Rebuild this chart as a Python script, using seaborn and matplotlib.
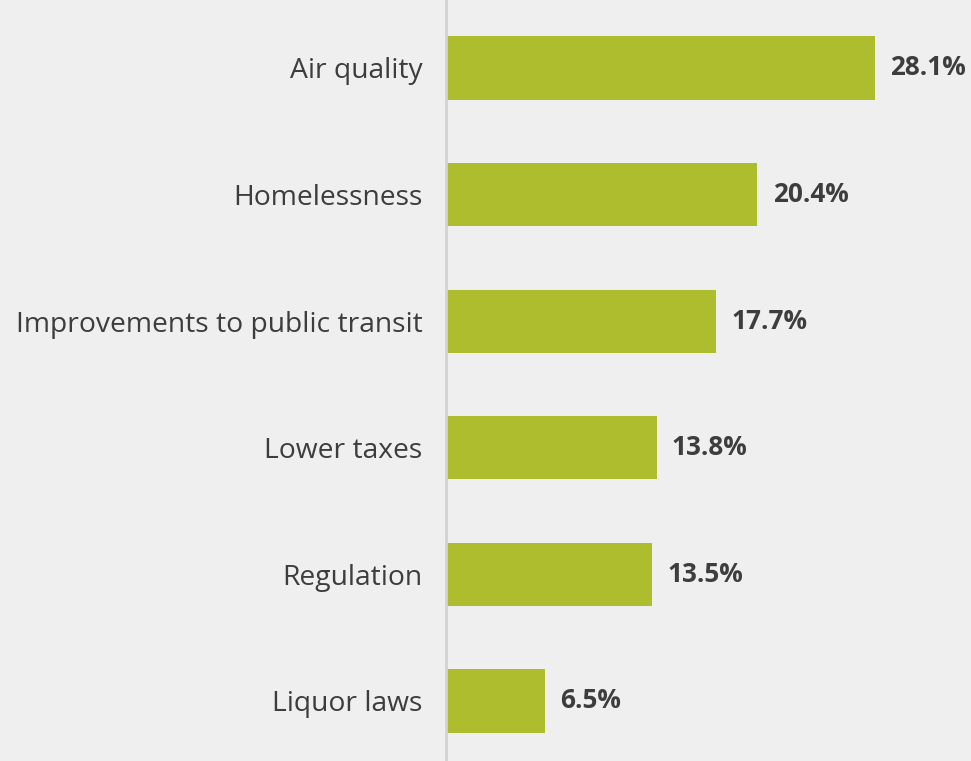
import matplotlib
matplotlib.use("Agg")
import matplotlib.pyplot as plt
import seaborn as sns
import pandas as pd

categories = ["Air quality", "Homelessness", "Improvements to public transit",
              "Lower taxes", "Regulation", "Liquor laws"]
values = [28.1, 20.4, 17.7, 13.8, 13.5, 6.5]
value_labels = ["28.1%", "20.4%", "17.7%", "13.8%", "13.5%", "6.5%"]

bg = "#efefef"
bar_color = "#aebd2e"
text_color = "#3d3d3d"

sns.set_theme(style="white")
plt.rcParams["font.family"] = ["Open Sans", "DejaVu Sans"]

df = pd.DataFrame({"issue": categories, "share": values})

fig = plt.figure(figsize=(9.71, 7.61), dpi=100, facecolor=bg)
ax = fig.add_axes([446 / 971, 0, 1 - 446 / 971, 1], facecolor=bg)

sns.barplot(data=df, x="share", y="issue", orient="h", color=bar_color,
            saturation=1, width=0.5, linewidth=0, ax=ax)

ax.set_xlim(0, 34.4)
ax.set_ylim(5.474, -0.537)

for i, (v, lab) in enumerate(zip(values, value_labels)):
    ax.text(v + 1.0, i, lab, va="center", ha="left", fontsize=18.8,
            fontweight="bold", color=text_color)

ax.set_xlabel("")
ax.set_ylabel("")
ax.set_xticks([])
ax.tick_params(axis="y", length=0, pad=17, labelsize=20.3, labelcolor=text_color)
for s in ["top", "right", "bottom"]:
    ax.spines[s].set_visible(False)
ax.spines["left"].set_color("#d2d2d2")
ax.spines["left"].set_linewidth(2)

fig.savefig("out.png", dpi=100, facecolor=bg)
